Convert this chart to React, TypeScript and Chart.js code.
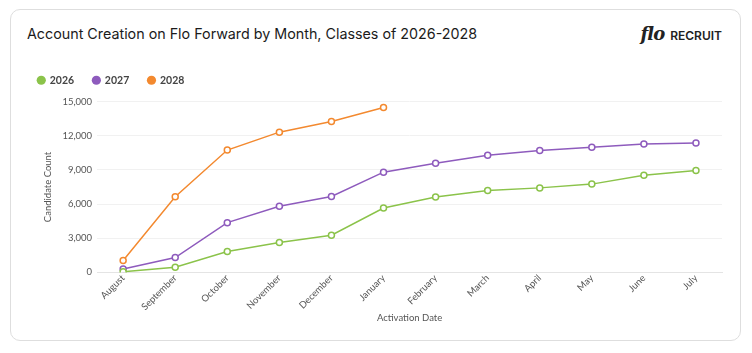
import React, { useEffect, useRef } from "react";
import { Chart, registerables } from "chart.js";

Chart.register(...registerables);

const months = ["August", "September", "October", "November", "December", "January", "February", "March", "April", "May", "June", "July"];
const class2026 = [50, 450, 1830, 2620, 3270, 5650, 6610, 7200, 7420, 7750, 8530, 8950];
const class2027 = [300, 1310, 4370, 5800, 6670, 8800, 9580, 10280, 10690, 10980, 11270, 11360];
const class2028 = [1050, 6640, 10740, 12310, 13250, 14470, null, null, null, null, null, null];
const yTicksStep = 3000;
const yMax = 15000;

const GREEN = "#8bc34a";
const PURPLE = "#8e5bbd";
const ORANGE = "#f3892f";

const legendShift = {
  id: "legendShift",
  afterLayout(chart: any) {
    const lg = chart.legend;
    if (!lg) return;
    lg.left -= 23;
    lg.right -= 23;
    lg.top -= 6;
    lg.bottom -= 6;
  },
};

export default function App() {
  const ref = useRef<HTMLCanvasElement | null>(null);
  useEffect(() => {
    if (!ref.current) return;
    const mk = (label: string, data: (number | null)[], color: string) => ({
      label,
      data,
      borderColor: color,
      backgroundColor: color,
      pointBackgroundColor: "#ffffff",
      pointBorderColor: color,
      pointBorderWidth: 1.5,
      pointRadius: 3,
      borderWidth: 1.5,
      tension: 0,
      spanGaps: false,
    });
    const chart = new Chart(ref.current, {
      type: "line",
      data: {
        labels: months,
        datasets: [mk("2026", class2026, GREEN), mk("2027", class2027, PURPLE), mk("2028", class2028, ORANGE)],
      },
      plugins: [legendShift],
      options: {
        animation: false,
        responsive: false,
        maintainAspectRatio: false,
        layout: { padding: { left: 31, right: 18, top: 0, bottom: 16 } },
        plugins: {
          legend: {
            position: "top",
            align: "start",
            labels: {
              usePointStyle: true,
              pointStyle: "circle",
              boxWidth: 6.5,
              boxHeight: 6.5,
              padding: 19,
              color: "#444",
              font: { family: "Lato", size: 10.5, weight: "bold" },
              generateLabels: (c: any) =>
                (Chart.defaults.plugins.legend.labels.generateLabels as any)(c).map((l: any) => ({
                  ...l,
                  fillStyle: l.strokeStyle,
                  lineWidth: 0,
                })),
            },
          },
          tooltip: { enabled: false },
        },
        scales: {
          x: {
            offset: true,
            grid: { display: false, drawTicks: false },
            border: { display: true, color: "#e4e4e4" },
            ticks: {
              minRotation: 45,
              maxRotation: 45,
              color: "#555",
              font: { family: "Lato", size: 9.5 },
              padding: 0,
            },
            title: {
              display: true,
              text: "Activation Date",
              color: "#555",
              font: { family: "Lato", size: 9.5 },
              padding: { top: 0, bottom: 0 },
            },
          },
          y: {
            min: 0,
            max: yMax,
            ticks: {
              stepSize: yTicksStep,
              color: "#555",
              font: { family: "Lato", size: 9.5 },
              padding: 5,
            },
            grid: { color: "#f1f1f1", drawTicks: false },
            border: { display: false },
            title: {
              display: true,
              text: "Candidate Count",
              color: "#555",
              font: { family: "Lato", size: 9.5 },
              padding: { top: 0, bottom: 4 },
            },
          },
        },
      },
    });
    return () => chart.destroy();
  }, []);

  return (
    <div
      style={{
        position: "absolute",
        left: 10,
        top: 9,
        width: 729,
        height: 330,
        border: "1px solid #dedede",
        borderRadius: 10,
        background: "#fff",
      }}
    >
      <div
        style={{
          position: "absolute",
          left: 16,
          top: 14,
          fontFamily: "Inter",
          fontSize: 14.3,
          lineHeight: "20px",
          color: "#1b1b1b",
          whiteSpace: "nowrap",
        }}
      >
        Account Creation on Flo Forward by Month, Classes of 2026-2028
      </div>
      <div
        style={{
          position: "absolute",
          right: 18,
          top: 13,
          lineHeight: "22px",
          whiteSpace: "nowrap",
          color: "#222",
          display: "flex",
          alignItems: "baseline",
        }}
      >
        <span style={{ fontFamily: "DejaVu Serif", fontStyle: "italic", fontWeight: "bold", fontSize: 18, letterSpacing: -1 }}>flo</span>
        <span style={{ fontFamily: "Inter", fontWeight: 600, fontSize: 12, marginLeft: 6 }}>RECRUIT</span>
      </div>
      <canvas ref={ref} width={729} height={278} style={{ position: "absolute", left: 0, top: 52 }} />
    </div>
  );
}
